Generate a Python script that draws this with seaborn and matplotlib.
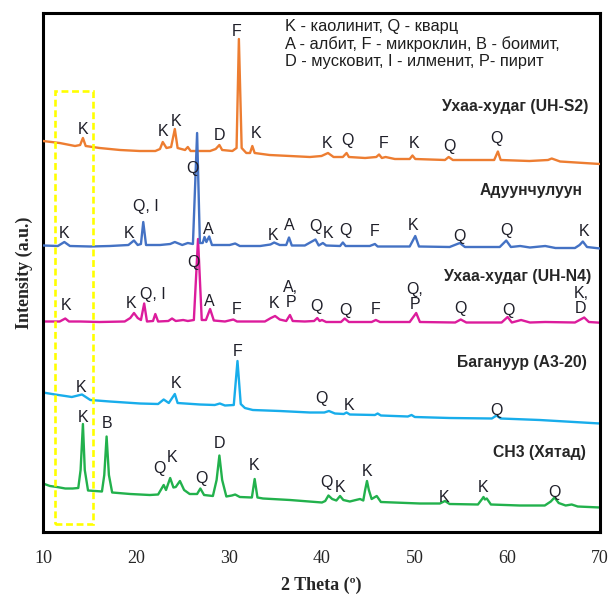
import matplotlib
matplotlib.use("Agg")
import matplotlib.pyplot as plt
import seaborn as sns
import pandas as pd
from matplotlib.patches import Rectangle

# ---------------- data (2θ in degrees, intensity in arbitrary units) ----------------
s2_theta = [10.0, 11.8, 13.45, 14.0, 14.3, 14.6, 16.1, 18.3, 20.4, 22.1, 22.6, 22.9, 23.3, 23.8,
            24.2, 24.5, 25.3, 25.6, 25.9, 28.0, 28.6, 29.0, 29.3, 30.4, 30.85, 31.1, 31.4, 31.9,
            32.3, 32.55, 32.8, 34.4, 36.6, 38.75, 40.0, 40.7, 41.3, 42.3, 42.7, 42.95, 44.7, 45.9,
            46.2, 46.5, 46.9, 47.9, 49.5, 49.8, 50.1, 53.3, 53.7, 54.15, 57.05, 58.6, 59.0, 59.3,
            62.4, 64.4, 64.8, 65.7, 70.0]
s2_int = [391, 389, 386, 387, 394, 386, 384, 382, 381, 381, 383, 390, 384, 385,
          403, 384, 382, 385, 381, 381, 383, 387, 382, 381, 384, 493, 384, 379,
          379, 386, 379, 377, 376, 375, 376, 379, 375, 375, 379, 375, 374, 375,
          377.5, 374, 375, 373, 373, 376.5, 373, 372, 375, 372, 372, 372, 380.5, 372,
          371, 372, 373.5, 370.5, 368]

ad_theta = [10.0, 11.6, 12.3, 12.9, 15.1, 17.2, 19.2, 19.8, 20.2, 20.55, 20.8, 21.1, 22.6, 23.7,
            24.2, 25.0, 25.6, 26.15, 26.6, 26.9, 27.2, 27.4, 27.6, 27.9, 28.2, 30.1, 30.7, 31.2,
            33.4, 34.5, 34.9, 35.5, 36.2, 36.5, 36.8, 38.2, 39.35, 39.7, 40.15, 40.5, 42.0, 42.3,
            42.6, 45.2, 45.75, 46.05, 49.5, 50.1, 50.5, 53.8, 54.9, 55.45, 59.2, 59.9, 60.4, 61.4,
            62.45, 64.1, 65.2, 67.3, 67.8, 68.15, 68.6, 70.0]
ad_int = [286.5, 286, 290, 286, 285.5, 286, 287, 291.5, 287, 288, 310, 287, 287, 288,
          290, 287, 289, 288, 399, 289, 289, 295, 290, 295.5, 287, 287, 288.5, 286,
          286, 287.5, 289.5, 287, 287, 294.5, 286.5, 286.5, 292.5, 286.5, 289, 286.5, 286, 289.5,
          286, 286, 288, 285.5, 285.5, 296, 285.5, 285, 289, 285, 285, 291.5, 285, 286,
          284.5, 286, 284, 284, 287, 290.5, 285, 283.5]

n4_theta = [10.0, 11.8, 12.4, 12.8, 14.0, 16.1, 18.8, 19.4, 19.8, 20.2, 20.55, 20.9, 21.2, 21.85,
            22.1, 22.4, 23.5, 23.9, 24.3, 25.1, 25.6, 26.25, 26.7, 27.1, 27.55, 28.0, 28.4, 29.6,
            30.5, 30.9, 33.9, 34.55, 35.0, 35.5, 36.2, 36.6, 36.9, 38.2, 39.2, 39.55, 39.8, 40.05,
            40.5, 42.1, 42.5, 42.95, 45.4, 45.85, 46.3, 49.5, 50.2, 50.6, 54.4, 55.0, 55.6, 59.4,
            60.05, 60.5, 61.5, 62.45, 64.1, 67.3, 67.8, 68.3, 68.8, 70.0]
n4_int = [210.5, 210.5, 213.5, 210.5, 210.5, 210, 210.5, 214, 219, 214, 212, 228.5, 210.5, 211,
          218, 210.5, 211, 213.5, 211, 212, 211, 212, 293, 212, 212, 223, 211.5, 210.5,
          212.5, 210.5, 210.5, 214, 216, 212.5, 211, 217, 211, 210.5, 211, 214, 211, 212,
          210, 210, 213.5, 210, 210, 212, 210, 210, 219, 210, 209.5, 212.5, 209.5, 209.5,
          215, 209.5, 212, 209.5, 210, 209.5, 212, 214.5, 210, 209.3]

ba_theta = [10.0, 11.3, 12.4, 13.1, 14.2, 15.1, 17.2, 20.45, 22.4, 23.0, 23.55, 24.2, 24.5, 26.9,
            28.5, 29.05, 29.6, 30.55, 30.95, 31.3, 31.75, 32.6, 35.5, 38.75, 40.3, 40.8, 41.45,
            42.4, 42.7, 43.05, 45.75, 46.05, 46.4, 49.3, 49.7, 50.05, 53.8, 58.35, 58.85, 59.3,
            63.5, 70.0]
ba_int = [139.5, 137.5, 136, 135, 137.5, 132, 130.5, 128.5, 128, 132.5, 129, 138, 129, 127.5,
          127, 128.5, 126.5, 127, 171, 128, 124, 122, 121, 119.5, 119.5, 121, 118.5,
          118, 119.5, 117.5, 117, 118.5, 116.5, 115.5, 117, 115, 114, 113.5, 116.5, 113.5,
          112, 108.5]

ch_theta = [10.0, 10.75, 11.5, 12.4, 13.2, 13.8, 14.05, 14.3, 14.5, 14.85, 16.35, 16.6, 16.85, 17.1,
            17.45, 19.4, 21.5, 22.4, 23.0, 23.25, 23.7, 24.05, 24.3, 24.75, 25.2, 25.8, 26.6, 26.95,
            27.35, 28.3, 28.7, 29.0, 29.3, 29.75, 30.35, 30.7, 31.2, 32.5, 32.8, 33.1, 33.7, 36.6,
            40.05, 40.4, 40.75, 41.15, 41.6, 42.0, 42.35, 43.05, 43.7, 44.15, 44.5, 44.7, 44.9,
            45.1, 45.4, 45.95, 46.4, 50.6, 52.75, 53.3, 53.8, 56.85, 57.3, 57.45, 57.6, 57.8,
            58.25, 61.35, 64.05, 64.7, 65.1, 65.55, 66.3, 66.95, 67.6, 70.0]
ch_int = [48.5, 46, 45, 43.5, 43.5, 44, 62, 108, 62, 41.5, 40.5, 57, 95.5, 57,
          39.5, 38, 37, 37.5, 47, 42, 54, 44.5, 45, 51, 42, 38, 38, 43.5,
          37, 36, 52, 76.5, 52, 35.5, 36.5, 37.5, 35, 34.5, 53, 34.5, 33.5, 32,
          29.5, 31, 36.5, 33, 31.5, 36, 32, 30.5, 32, 33, 31.5, 42, 51,
          42, 33, 36, 30, 28.5, 28.5, 31, 28, 27.5, 33, 35, 32.5, 33.5,
          27.5, 26.5, 26.5, 30.5, 34.5, 29, 26.5, 27.5, 25.5, 24.5]

# peak labels
s2_lab = ["K", "K", "K", "D", "F", "K", "K", "Q", "F", "K", "Q", "Q"]
s2_lab_x = [14.3, 22.9, 24.3, 29.0, 30.9, 32.95, 40.6, 42.8, 46.65, 50.0, 53.75, 58.85]
s2_lab_y = [402, 400, 411, 397, 500, 399, 389, 392, 388, 388, 386, 393]

ad_lab = ["K", "K", "Q, I", "Q", "A", "K", "A", "Q", "K", "Q", "F", "K", "Q", "Q", "K"]
ad_lab_x = [12.25, 19.3, 21.05, 26.1, 27.8, 34.8, 36.5, 39.35, 40.7, 42.6, 45.75, 49.9, 54.85, 59.95, 68.25]
ad_lab_y = [299, 299, 325, 364, 303, 296, 306, 306, 299, 302, 301, 306, 296, 302, 301]

n4_lab = ["K", "K", "Q, I", "Q", "A", "F", "K", "A,\nP", "Q", "Q", "F", "Q,\nP", "Q", "Q", "K,\nD"]
n4_lab_x = [12.5, 19.45, 21.8, 26.25, 27.9, 30.85, 34.9, 36.7, 39.5, 42.6, 45.85, 50.05, 55.0, 60.1, 67.95]
n4_lab_y = [227, 228, 237, 269, 231, 222, 228, 237, 225, 221, 223, 235, 224, 222, 231]

ba_lab = ["K", "K", "F", "Q", "K", "Q"]
ba_lab_x = [14.05, 24.3, 30.95, 40.0, 43.0, 58.8]
ba_lab_y = [145, 148, 180, 134, 126, 121]

ch_lab = ["K", "B", "Q", "K", "Q", "D", "K", "Q", "K", "K", "K", "K", "Q"]
ch_lab_x = [14.3, 16.85, 22.5, 23.9, 27.1, 29.05, 32.75, 40.55, 42.05, 44.9, 53.2, 57.4, 65.05]
ch_lab_y = [115, 109, 63, 75, 53, 89, 66, 50, 44, 60, 35, 45, 40]

sample_names = ["Ухаа-худаг (UH-S2)", "Адуунчулуун", "Ухаа-худаг (UH-N4)", "Багануур (А3-20)", "CH3 (Хятад)"]
name_x = [68.7, 68.15, 69.1, 68.6, 68.5]
name_y = [426, 342, 256, 169, 80]

key_lines = ["K - каолинит, Q - кварц",
             "A - албит, F - микроклин, B - боимит,",
             "D - мусковит, I - илменит, P- пирит"]
key_x = 36.06
key_y = [506, 487.5, 470.5]

xticks = [10, 20, 30, 40, 50, 60, 70]

# ---------------- plotting ----------------
sns.set_style("white")
plt.rcParams["font.family"] = ["Liberation Sans", "DejaVu Sans"]

fig = plt.figure(figsize=(6.08, 5.95), dpi=100)
ax = fig.add_axes([43 / 608, 63 / 595, 557 / 608, 519 / 595])

series = [
    (n4_theta, n4_int, "#DC1C9C", n4_lab, n4_lab_x, n4_lab_y, 2),
    (s2_theta, s2_int, "#ED7D31", s2_lab, s2_lab_x, s2_lab_y, 3),
    (ad_theta, ad_int, "#4472C4", ad_lab, ad_lab_x, ad_lab_y, 3),
    (ba_theta, ba_int, "#18ADEB", ba_lab, ba_lab_x, ba_lab_y, 2),
    (ch_theta, ch_int, "#22B14C", ch_lab, ch_lab_x, ch_lab_y, 2),
]
for th, it, col, labs, lx, ly, z in series:
    df = pd.DataFrame({"theta": th, "intensity": it})
    sns.lineplot(data=df, x="theta", y="intensity", color=col, linewidth=1.7,
                 estimator=None, ax=ax, zorder=z)
    for t, x, y in zip(labs, lx, ly):
        ax.text(x, y, t, ha="center", va="center", fontsize=11.5, color="#1e1e28",
                linespacing=1.05, zorder=5)

for t, x, y in zip(sample_names, name_x, name_y):
    ax.text(x, y, t, ha="right", va="center", fontsize=11.3, fontweight="bold", color="#262626")

for t, y in zip(key_lines, key_y):
    ax.text(key_x, y, t, ha="left", va="center", fontsize=11.8, color="#1e1e1e")

ax.add_patch(Rectangle((11.26, 7.7), 15.42 - 11.26, 441.3 - 7.7, fill=False,
                       edgecolor="#FFFF00", linewidth=1.9, linestyle=(0, (2.6, 1.4)), zorder=6))

ax.set_xlim(10, 70)
ax.set_ylim(0, 519)
ax.set_xticks(xticks)
ax.set_yticks([])
ax.tick_params(axis="x", direction="in", length=4, width=1, pad=13,
               labelsize=13, labelfontfamily="Liberation Serif")
for sp in ax.spines.values():
    sp.set_visible(True)
    sp.set_color("black")
    sp.set_linewidth(2.2)

ax.set_xlabel("2 Theta (º)", fontsize=13, fontweight="bold", family="Liberation Serif", labelpad=7)
ax.set_ylabel("Intensity (a.u.)", fontsize=13, fontweight="bold", family="Liberation Serif", labelpad=7)

fig.savefig("out.png", dpi=100)
